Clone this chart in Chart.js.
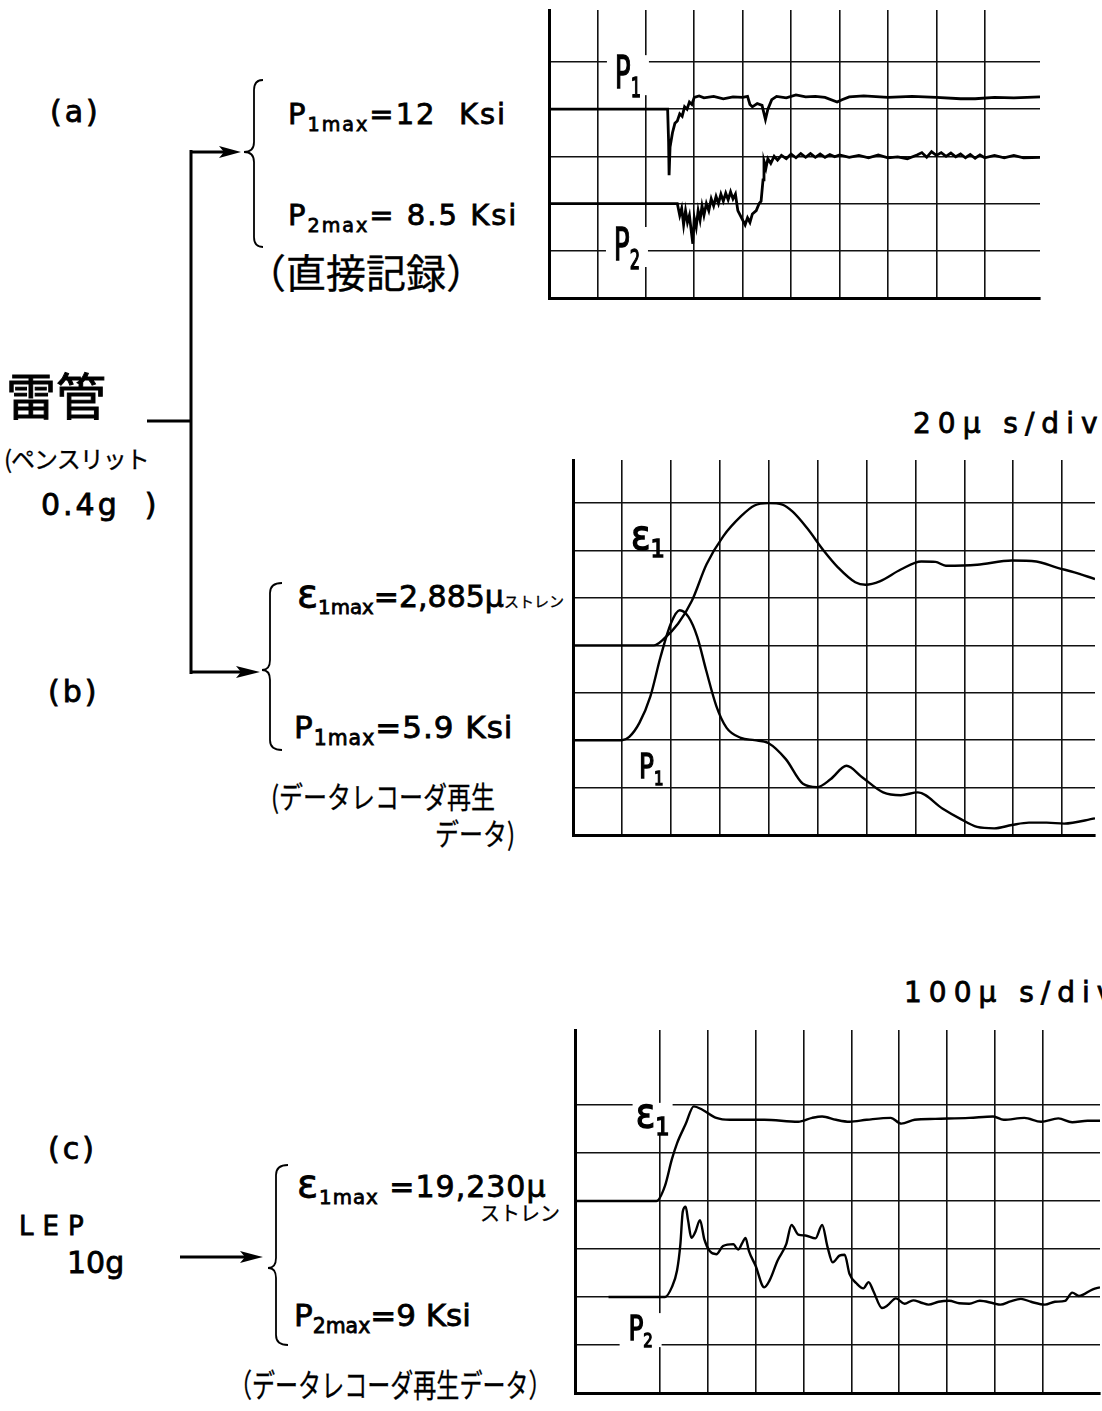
<!DOCTYPE html>
<html>
<head>
<meta charset="utf-8">
<script src="https://cdn.jsdelivr.net/npm/chart.js@4.4.1/dist/chart.umd.min.js"></script>
<style>
html, body { margin: 0; padding: 0; background: #fff; }
body { width: 1102px; height: 1411px; position: relative; overflow: hidden; font-family: "DejaVu Sans", sans-serif; color: #000; }
.t { position: absolute; white-space: nowrap; line-height: 1; -webkit-text-stroke: 0.8px #000; }
.jp { font-family: "Noto Sans CJK JP", sans-serif; -webkit-text-stroke: 0.3px #000; }
.sub { font-size: 0.66em; vertical-align: -0.34em; }
.eps { font-size: 1.3em; line-height: 0.8; }
.squeeze { transform-origin: 0 0; display: inline-block; }
canvas { position: absolute; }
svg { position: absolute; left: 0; top: 0; }
</style>
</head>
<body>

<svg width="1102" height="1411">
  <g stroke="#000" fill="none" stroke-width="3">
    <path d="M147 421 H191 M191 150 V674 M191 152 H226 M191 672 H244 M180 1257 H248"/>
  </g>
  <g fill="#000">
    <path d="M241 152 L219 146 L224 152 L219 158 Z"/>
    <path d="M260 672 L236 666 L241 672 L236 678 Z"/>
    <path d="M263 1257 L240 1251 L245 1257 L240 1263 Z"/>
  </g>
  <g id="braces" stroke="#000" fill="none" stroke-width="1.8"></g>
</svg>

<div class="t" style="left:50px;top:97px;font-size:30px;letter-spacing:3px;">(a)</div>
<div class="t" style="left:288px;top:100px;font-size:29px;letter-spacing:2px;">P<span class="sub">1max</span>=12&nbsp; Ksi</div>
<div class="t" style="left:288px;top:201px;font-size:29px;letter-spacing:2px;">P<span class="sub">2max</span>= 8.5 Ksi</div>
<div class="t jp" style="left:246px;top:251px;font-size:40px;">（直接記録）</div>

<div class="t jp" style="left:6px;top:368px;font-size:50px;-webkit-text-stroke:1px #000;">雷管</div>
<div class="t jp" style="left:4px;top:446px;font-size:24px;letter-spacing:-1px;">(ペンスリット</div>
<div class="t" style="left:41px;top:490px;font-size:30px;letter-spacing:3px;">0.4g&nbsp; )</div>

<div class="t" style="left:48px;top:677px;font-size:30px;letter-spacing:3px;">(b)</div>
<div class="t" style="left:297px;top:578px;font-size:30px;letter-spacing:0px;"><span class="eps">ε</span><span class="sub">1max</span>=2,885μ<span class="jp" style="font-size:15px;">ストレン</span></div>
<div class="t" style="left:294px;top:712px;font-size:31px;letter-spacing:1px;">P<span class="sub">1max</span>=5.9 Ksi</div>
<div class="t jp" style="left:271px;top:780px;font-size:30px;"><span class="squeeze" style="transform:scaleX(0.8);">(データレコーダ再生</span></div>
<div class="t jp" style="left:435px;top:817px;font-size:30px;"><span class="squeeze" style="transform:scaleX(0.8);">データ)</span></div>

<div class="t" style="left:48px;top:1134px;font-size:30px;letter-spacing:3px;">(c)</div>
<div class="t" style="left:19px;top:1213px;font-size:26px;letter-spacing:9px;">LEP</div>
<div class="t" style="left:67px;top:1248px;font-size:30px;">10g</div>
<div class="t" style="left:297px;top:1168px;font-size:30px;letter-spacing:1px;"><span class="eps">ε</span><span class="sub">1max</span> =19,230μ</div>
<div class="t jp" style="left:480px;top:1203px;font-size:20px;">ストレン</div>
<div class="t" style="left:294px;top:1300px;font-size:31px;">P<span class="sub">2max</span>=9 Ksi</div>
<div class="t jp" style="left:229px;top:1367px;font-size:32px;"><span class="squeeze" style="transform:scaleX(0.72);">（データレコーダ再生データ）</span></div>

<div class="t" style="left:913px;top:410px;font-size:28px;letter-spacing:7px;">20μ s/div</div>
<div class="t" style="left:904px;top:979px;font-size:28px;letter-spacing:7px;">100μ s/div</div>

<canvas id="chartA" width="503" height="300" style="left:543px;top:4px;"></canvas>
<canvas id="chartB" width="534" height="387" style="left:567px;top:454px;"></canvas>
<canvas id="chartC" width="537" height="375" style="left:569px;top:1024px;"></canvas>

<script>
// (a) direct recording, x and y in grid divisions
const aP1x = [0, 2.45, 2.47, 2.48, 2.5, 2.55, 2.6, 2.65, 2.7, 2.75, 2.8, 2.85, 2.9, 2.95, 3.0, 3.1, 3.2, 3.4, 3.6, 3.8, 4.0, 4.1, 4.15, 4.2, 4.3, 4.4, 4.47, 4.52, 4.6, 4.7, 4.9, 5.1, 5.3, 5.5, 5.7, 5.95, 6.05, 6.2, 6.5, 7.0, 7.5, 8.0, 8.5, 8.8, 9.2, 9.6, 10.14];
const aP1y = [4, 4, 3.3, 2.6, 3.2, 3.5, 3.7, 3.75, 3.9, 3.85, 4.05, 4.0, 4.15, 4.1, 4.25, 4.28, 4.24, 4.27, 4.22, 4.26, 4.25, 4.27, 4.1, 4.05, 4.12, 4.08, 3.78, 4.0, 4.2, 4.27, 4.24, 4.3, 4.26, 4.27, 4.25, 4.15, 4.2, 4.26, 4.28, 4.25, 4.27, 4.25, 4.22, 4.22, 4.25, 4.24, 4.26];
const aP2x = [0, 2.65, 2.7, 2.74, 2.78, 2.82, 2.86, 2.9, 2.94, 2.97, 3.0, 3.04, 3.08, 3.12, 3.16, 3.2, 3.25, 3.3, 3.35, 3.4, 3.45, 3.5, 3.55, 3.6, 3.65, 3.7, 3.75, 3.8, 3.85, 3.9, 3.95, 4.0, 4.05, 4.1, 4.15, 4.2, 4.28, 4.34, 4.38, 4.42, 4.44, 4.48, 4.52, 4.58, 4.65, 4.72, 4.8, 4.9, 5.0, 5.1, 5.2, 5.3, 5.4, 5.5, 5.6, 5.7, 5.8, 5.9, 6.0, 6.2, 6.4, 6.6, 6.8, 7.0, 7.2, 7.4, 7.6, 7.7, 7.8, 7.9, 8.0, 8.1, 8.2, 8.3, 8.4, 8.5, 8.6, 8.7, 8.8, 8.9, 9.0, 9.2, 9.4, 9.6, 9.8, 10.14];
const aP2y = [2, 2, 1.75, 1.9, 1.55, 1.85, 1.6, 1.75, 1.4, 1.15, 1.7, 1.5, 1.85, 1.65, 1.95, 1.75, 2.0, 1.85, 2.1, 1.95, 2.15, 2.0, 2.2, 2.05, 2.22, 2.08, 2.25, 2.1, 2.2, 1.85, 1.75, 1.65, 1.55, 1.7, 1.6, 1.78, 1.85, 2.0, 2.05, 2.5, 2.9, 2.75, 2.95, 2.85, 3.0, 2.92, 3.02, 2.95, 3.05, 2.97, 3.06, 2.98, 3.06, 2.98, 3.05, 2.98, 3.04, 2.99, 3.03, 2.98, 3.02, 2.97, 3.03, 2.97, 2.99, 2.95, 3.03, 3.08, 2.98, 3.1, 3.02, 3.08, 3.0, 3.07, 2.99, 3.05, 2.97, 3.04, 2.96, 3.03, 2.97, 3.02, 2.97, 3.02, 2.97, 2.98];

// (b) data recorder playback, 20 us/div
const bE1x = [0, 1.65, 1.86, 2.15, 2.43, 2.73, 3.07, 3.43, 3.71, 3.99, 4.28, 4.49, 4.78, 5.13, 5.42, 5.77, 5.98, 6.27, 6.7, 7.12, 7.41, 7.62, 8.26, 8.97, 9.47, 9.89, 10.25, 10.67];
const bE1y = [4, 4, 4.14, 4.46, 4.94, 5.71, 6.3, 6.72, 6.95, 7.0, 6.97, 6.82, 6.48, 5.99, 5.64, 5.33, 5.28, 5.35, 5.6, 5.77, 5.76, 5.68, 5.7, 5.79, 5.77, 5.64, 5.54, 5.4];
const bP1x = [0, 1.0, 1.15, 1.36, 1.58, 1.79, 2.0, 2.18, 2.36, 2.54, 2.72, 2.93, 3.14, 3.43, 3.71, 3.99, 4.35, 4.7, 4.99, 5.27, 5.59, 5.91, 6.34, 6.7, 7.05, 7.55, 7.9, 8.26, 8.61, 8.97, 9.32, 9.68, 10.04, 10.67];
const bP1y = [2, 2, 2.07, 2.37, 2.92, 3.76, 4.46, 4.74, 4.6, 4.18, 3.48, 2.72, 2.26, 2.05, 2.0, 1.94, 1.6, 1.08, 1.01, 1.18, 1.46, 1.22, 0.9, 0.84, 0.9, 0.56, 0.35, 0.17, 0.14, 0.21, 0.26, 0.26, 0.24, 0.35];

// (c) LEP 10g, 100 us/div
const cE1x = [-1.77, -0.07, 0.11, 0.25, 0.36, 0.54, 0.71, 0.89, 1.18, 1.46, 2.18, 2.89, 3.18, 3.39, 3.68, 3.96, 4.32, 4.82, 5.04, 5.32, 5.75, 6.46, 6.96, 7.18, 7.61, 7.96, 8.32, 8.61, 8.93, 9.19];
const cE1y = [4, 4, 4.32, 4.86, 5.2, 5.6, 5.97, 5.9, 5.73, 5.69, 5.69, 5.65, 5.73, 5.76, 5.69, 5.65, 5.69, 5.73, 5.61, 5.69, 5.71, 5.73, 5.76, 5.69, 5.73, 5.65, 5.72, 5.64, 5.67, 5.67];
const cP2x = [-1.07, 0.11, 0.25, 0.36, 0.43, 0.48, 0.54, 0.59, 0.66, 0.74, 0.84, 0.93, 1.04, 1.18, 1.32, 1.54, 1.6, 1.64, 1.72, 1.79, 1.86, 2.0, 2.18, 2.29, 2.46, 2.64, 2.75, 2.89, 3.04, 3.25, 3.39, 3.5, 3.61, 3.75, 3.86, 3.96, 4.11, 4.25, 4.36, 4.46, 4.64, 4.75, 4.93, 5.11, 5.29, 5.46, 5.61, 5.82, 6.04, 6.25, 6.46, 6.68, 6.96, 7.11, 7.32, 7.54, 7.75, 8.04, 8.25, 8.46, 8.61, 8.75, 9.04, 9.19];
const cP2y = [2, 2, 2.2, 2.55, 3.1, 3.78, 3.88, 3.6, 3.23, 3.35, 3.6, 3.2, 2.96, 2.89, 3.06, 3.1, 3.02, 2.99, 3.12, 3.23, 2.96, 2.65, 2.2, 2.34, 2.76, 3.1, 3.5, 3.3, 3.28, 3.22, 3.5, 3.05, 2.72, 2.86, 2.88, 2.48, 2.28, 2.18, 2.31, 2.12, 1.77, 1.82, 1.97, 1.86, 1.93, 1.88, 1.84, 1.9, 1.92, 1.87, 1.86, 1.92, 1.87, 1.84, 1.91, 1.96, 1.9, 1.84, 1.9, 1.92, 2.09, 2.02, 2.16, 2.2];

// grid divisions
const aGridX = [1, 2, 3, 4, 5, 6, 7, 8, 9];
const aGridY = [1, 2, 3, 4, 5];
const bGridX = [1, 2, 3, 4, 5, 6, 7, 8, 9, 10];
const bGridY = [1, 2, 3, 4, 5, 6, 7];
const cGridX = [0, 1, 2, 3, 4, 5, 6, 7, 8];
const cGridY = [1, 2, 3, 4, 5, 6];

const PAD = 6;

// draws trace names (P1, ε1 ...) at data positions, with a white patch over the grid when asked
const tagPlugin = {
    id: 'tags',
    beforeDatasetsDraw(chart, args, opts) {
        const ctx = chart.ctx;
        const sx = chart.scales.x, sy = chart.scales.y;
        for (const it of opts.items || []) {
            const px = sx.getPixelForValue(it.x);
            const py = sy.getPixelForValue(it.y);
            ctx.save();
            if (it.bg) {
                ctx.fillStyle = '#fff';
                ctx.fillRect(px - it.bg[0] / 2, py - it.bg[1] / 2, it.bg[0], it.bg[1]);
            }
            ctx.translate(px, py);
            ctx.scale(it.sx, 1);
            ctx.fillStyle = '#000';
            ctx.strokeStyle = '#000';
            ctx.lineWidth = 1.4;
            const subSize = Math.round(it.size * 0.62);
            ctx.font = it.size + 'px "DejaVu Sans"';
            const w1 = ctx.measureText(it.main).width;
            ctx.font = subSize + 'px "DejaVu Sans"';
            const w2 = ctx.measureText(it.sub).width;
            const x0 = -(w1 + w2) / 2;
            const base = it.size * (it.main === 'P' ? 0.3 : 0.22);
            ctx.font = it.size + 'px "DejaVu Sans"';
            ctx.fillText(it.main, x0, base);
            ctx.strokeText(it.main, x0, base);
            ctx.font = subSize + 'px "DejaVu Sans"';
            ctx.fillText(it.sub, x0 + w1, base + it.size * 0.2);
            ctx.strokeText(it.sub, x0 + w1, base + it.size * 0.2);
            ctx.restore();
        }
    }
};

function pts(xs, ys) {
    return xs.map((x, i) => ({ x: x, y: ys[i] }));
}

function axis(min, max, grid) {
    return {
        type: 'linear',
        min: min,
        max: max,
        border: { display: true, color: '#000', width: 3 },
        grid: { color: '#111', lineWidth: 1.6, drawTicks: false },
        ticks: { display: false },
        afterBuildTicks: s => { s.ticks = grid.map(v => ({ value: v })); }
    };
}

function scope(id, series, xr, yr, gx, gy, tags, width, smooth) {
    return new Chart(document.getElementById(id), {
        type: 'line',
        data: {
            datasets: series.map(s => ({
                data: s,
                borderColor: '#000',
                borderWidth: width,
                pointRadius: 0,
                fill: false,
                cubicInterpolationMode: smooth ? 'monotone' : 'default',
                tension: smooth ? 0.4 : 0
            }))
        },
        options: {
            responsive: false,
            animation: false,
            events: [],
            layout: { padding: PAD },
            plugins: { legend: { display: false }, tooltip: { enabled: false }, tags: { items: tags } },
            scales: { x: axis(xr[0], xr[1], gx), y: axis(yr[0], yr[1], gy) }
        },
        plugins: [tagPlugin]
    });
}

scope('chartA', [pts(aP1x, aP1y), pts(aP2x, aP2y)], [0, 10.14], [0, 6.1], aGridX, aGridY, [
    { main: 'P', sub: '1', x: 1.63, y: 4.72, size: 44, sx: 0.6, bg: [42, 40] },
    { main: 'P', sub: '2', x: 1.61, y: 1.08, size: 44, sx: 0.6, bg: [42, 40] }
], 2.8, false);

scope('chartB', [pts(bE1x, bE1y), pts(bP1x, bP1y)], [0, 10.67], [0, 7.91], bGridX, bGridY, [
    { main: 'ε', sub: '1', x: 1.53, y: 6.22, size: 40, sx: 0.9 },
    { main: 'P', sub: '1', x: 1.6, y: 1.41, size: 33, sx: 0.75 }
], 2.4, true);

scope('chartC', [pts(cE1x, cE1y), pts(cP2x, cP2y)], [-1.77, 9.19], [0, 7.56], cGridX, cGridY, [
    { main: 'ε', sub: '1', x: -0.15, y: 5.73, size: 40, sx: 0.9, bg: [40, 30] },
    { main: 'P', sub: '2', x: -0.4, y: 1.31, size: 33, sx: 0.75, bg: [42, 34] }
], 2.4, true);

// curly braces next to the maximum values
function brace(xv, xt, xh, yt, ym, yb) {
    const r = 10;
    return `M${xh} ${yt} Q${xv} ${yt} ${xv} ${yt + r} L${xv} ${ym - r} Q${xv} ${ym} ${xt} ${ym} ` +
        `Q${xv} ${ym} ${xv} ${ym + r} L${xv} ${yb - r} Q${xv} ${yb} ${xh} ${yb}`;
}
const braceG = document.getElementById('braces');
[[254, 244, 263, 80, 152, 247], [270, 262, 282, 583, 670, 750], [276, 268, 288, 1165, 1268, 1345]].forEach(b => {
    const p = document.createElementNS('http://www.w3.org/2000/svg', 'path');
    p.setAttribute('d', brace(...b));
    braceG.appendChild(p);
});
</script>
</body>
</html>
